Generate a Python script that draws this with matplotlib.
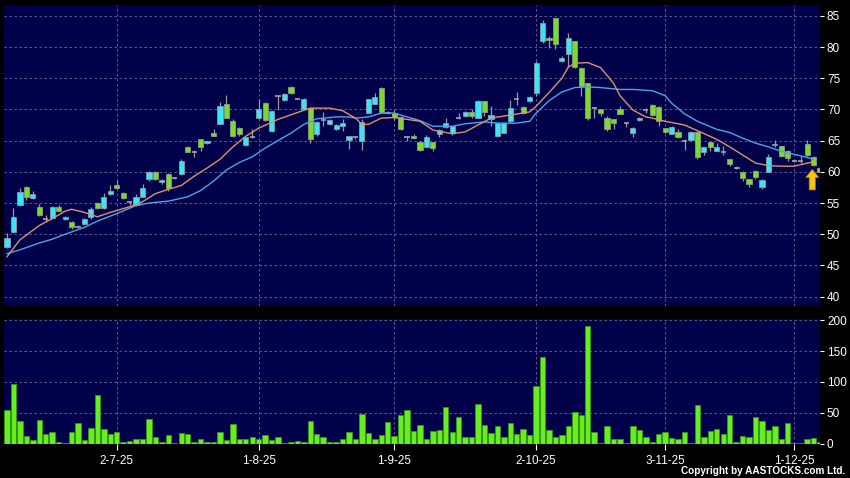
import matplotlib
matplotlib.use('Agg')
import matplotlib.pyplot as plt
from matplotlib.patches import FancyArrow

# ---------------- data ----------------
opens = [48.0, 50.3, 54.7, 57.5, 55.8, 54.4, 52.5, 52.6, 54.4, 52.4,
         52.0, 51.2, 51.6, 52.7, 55.0, 54.2, 56.4, 57.9, 56.6, 55.1,
         54.7, 56.0, 58.8, 60.0, 58.3, 59.6, 59.0, 59.6, 64.0, 63.1,
         65.2, 64.6, 66.3, 67.7, 70.8, 68.2, 67.0, 64.3, 65.6, 68.6,
         71.0, 66.5, 72.2, 71.5, 73.6, 71.7, 70.1, 70.3, 66.0, 68.3,
         67.6, 66.8, 67.4, 65.1, 65.5, 64.9, 69.5, 70.9, 73.5, 69.4,
         69.5, 68.8, 65.5, 65.7, 64.8, 64.0, 64.7, 66.0, 67.2, 66.2,
         68.7, 68.9, 69.6, 68.7, 71.3, 68.4, 65.7, 66.3, 68.2, 71.6,
         70.4, 71.3, 72.6, 81.0, 81.5, 84.6, 77.8, 78.9, 80.9, 76.7,
         74.2, 70.2, 70.0, 68.7, 68.4, 70.0, 67.9, 66.3, 68.3, 69.9,
         70.7, 70.4, 67.0, 66.1, 66.4, 65.0, 65.1, 66.4, 63.2, 64.7,
         63.4, 63.2, 62.0, 60.6, 60.0, 58.8, 60.2, 57.5, 60.0, 64.3,
         64.1, 63.4, 61.7, 61.7, 64.4, 62.4, 60.6]
highs = [50.2, 54.2, 57.4, 57.7, 57.0, 54.9, 53.1, 54.5, 54.7, 52.9,
         52.1, 51.4, 52.6, 54.4, 55.2, 56.6, 57.9, 58.7, 56.7, 55.3,
         56.5, 58.0, 60.2, 60.1, 58.9, 59.8, 59.2, 62.0, 64.1, 63.5,
         65.3, 65.0, 66.9, 71.2, 72.3, 68.4, 67.2, 65.6, 66.9, 71.7,
         71.2, 69.9, 72.3, 72.6, 73.8, 71.8, 71.8, 70.4, 68.1, 69.6,
         68.4, 67.6, 68.5, 65.8, 65.7, 68.4, 71.7, 72.6, 73.6, 69.8,
         69.9, 68.9, 65.8, 66.0, 64.9, 65.9, 64.8, 66.8, 68.6, 67.4,
         69.4, 69.7, 70.0, 71.5, 71.4, 70.5, 68.0, 67.9, 71.5, 72.8,
         70.6, 72.1, 77.7, 84.4, 81.8, 84.7, 78.5, 82.2, 81.0, 76.8,
         74.3, 70.4, 70.1, 68.9, 68.5, 70.6, 68.0, 67.2, 68.8, 70.3,
         70.9, 70.5, 67.1, 67.4, 66.9, 65.2, 66.6, 66.5, 64.0, 64.8,
         64.6, 64.2, 62.1, 60.9, 60.1, 58.9, 60.3, 58.8, 62.9, 65.1,
         64.2, 63.5, 61.9, 62.5, 65.1, 62.5, 60.8]
lows = [47.8, 50.2, 54.6, 55.5, 55.7, 53.0, 51.9, 52.5, 53.7, 52.3,
        50.9, 51.0, 51.5, 52.5, 54.1, 54.1, 56.3, 57.3, 55.7, 54.7,
        54.6, 55.9, 58.6, 58.7, 58.0, 56.9, 58.9, 59.5, 63.1, 62.4,
        63.3, 64.5, 65.7, 67.6, 68.6, 65.5, 65.8, 64.2, 65.4, 68.5,
        68.2, 66.4, 69.9, 71.4, 72.5, 71.6, 70.0, 64.6, 65.8, 67.3,
        67.5, 66.7, 66.5, 63.6, 65.3, 63.5, 69.4, 70.8, 69.5, 69.2,
        68.3, 66.7, 65.0, 65.3, 63.3, 63.9, 63.3, 65.5, 67.1, 65.9,
        68.4, 68.8, 68.7, 68.6, 69.0, 67.4, 65.5, 66.2, 67.9, 70.7,
        69.2, 71.2, 72.1, 80.6, 79.8, 79.6, 77.6, 76.8, 76.7, 72.1,
        68.3, 68.6, 69.0, 66.6, 66.8, 69.2, 67.2, 65.6, 68.2, 69.5,
        69.0, 67.3, 66.3, 66.0, 65.4, 63.5, 65.0, 62.0, 62.7, 63.3,
        63.3, 62.7, 61.0, 60.5, 58.6, 57.6, 58.9, 57.3, 59.9, 63.9,
        62.4, 61.8, 61.5, 61.4, 62.6, 61.0, 59.9]
closes = [49.4, 52.8, 56.7, 56.0, 56.4, 53.1, 52.5, 54.4, 53.8, 52.8,
          51.1, 51.2, 52.5, 54.0, 54.2, 55.9, 56.9, 57.4, 55.8, 55.1,
          55.9, 57.4, 60.0, 58.8, 58.7, 57.4, 59.0, 61.7, 63.2, 63.1,
          64.0, 64.9, 65.8, 70.5, 68.7, 65.7, 66.0, 65.5, 65.6, 70.0,
          68.3, 69.8, 72.2, 72.5, 72.6, 71.7, 71.7, 65.2, 68.0, 68.3,
          68.3, 67.5, 67.8, 65.7, 65.5, 68.0, 71.6, 72.0, 69.6, 69.6,
          68.8, 66.8, 65.5, 65.4, 63.5, 65.5, 63.8, 66.7, 67.9, 67.3,
          68.7, 69.6, 68.9, 71.3, 69.6, 69.1, 67.9, 67.8, 70.2, 71.6,
          69.4, 72.0, 77.4, 83.9, 81.1, 80.5, 78.3, 81.4, 76.8, 73.8,
          68.6, 70.2, 69.5, 66.8, 67.9, 69.3, 67.9, 67.1, 68.7, 69.9,
          69.1, 68.1, 66.4, 67.2, 65.6, 65.0, 66.4, 62.4, 63.9, 63.9,
          63.9, 63.2, 61.2, 60.8, 59.0, 58.0, 59.1, 58.7, 62.4, 64.5,
          62.5, 62.2, 61.7, 61.7, 62.7, 61.1, 60.0]
volumes = [55, 96, 37, 12, 5, 38, 16, 19, 3, 0.5,
           18, 33, 5, 25, 78, 23, 16, 18, 2, 4,
           6.5, 6.5, 40, 10, 2, 13, 0.5, 17, 16, 2,
           6.5, 3, 3, 18, 5, 31, 7.5, 7.5, 10, 8,
           13, 5, 11, 1, 2, 4, 2, 37, 16, 11,
           2, 3, 7, 18, 7.5, 48, 17, 7, 13, 35,
           12, 47, 54, 21, 30, 7, 21, 21.5, 60, 19,
           42.5, 11, 10, 64.5, 30, 17, 29, 11, 34, 16,
           24, 14, 93.5, 141, 22.6, 10, 13, 29, 50.5, 47,
           190, 19, 1.6, 28.5, 6.5, 8, 1, 29, 22.6, 10,
           3, 15, 19.4, 8.6, 7.5, 19.4, 1.6, 63, 10, 20.4,
           24.2, 15, 47, 3.2, 12, 10, 43, 36.6, 22.6, 28.5,
           6.5, 33, 1, 1, 7.5, 9.7, 2]

ma10_days = [0, 2, 5, 7, 9, 10, 12, 14, 16, 19, 21, 23, 25, 27, 29, 31, 33, 35,
             37, 39, 42, 45, 47, 50, 52, 54, 55, 56, 58, 60, 62, 64, 66, 69, 71,
             73, 75, 78, 81, 82, 84, 86, 87, 88, 90, 92, 94, 95, 97, 99, 100,
             102, 105, 107, 110, 112, 114, 116, 118, 120, 122, 124, 125]
ma10_vals = [46.4, 49.1, 51.4, 52.5, 53.7, 54.0, 53.5, 52.8, 53.5, 54.4, 55.2,
             56.5, 57.2, 57.8, 59.3, 60.6, 62.0, 64.0, 65.7, 67.0, 68.4, 69.5,
             70.2, 70.2, 69.8, 68.6, 67.6, 67.6, 68.6, 68.7, 68.4, 68.1, 66.7,
             66.1, 66.4, 67.5, 68.6, 69.1, 69.6, 70.5, 72.7, 75.0, 76.8, 77.4,
             77.5, 76.7, 74.2, 72.2, 69.9, 68.8, 68.6, 68.1, 67.5, 66.6, 65.2,
             64.0, 62.7, 61.4, 61.0, 60.9, 60.9, 61.4, 61.6]
ma20_days = [0, 2, 5, 7, 9, 12, 14, 17, 20, 22, 25, 28, 30, 32, 34, 36, 38, 40,
             42, 44, 46, 48, 51, 53, 54, 56, 58, 60, 62, 64, 66, 69, 71, 74, 76,
             79, 81, 82, 84, 86, 88, 90, 92, 95, 97, 100, 102, 103, 105, 107,
             110, 112, 114, 116, 118, 120, 122, 124, 125]
ma20_vals = [46.9, 47.5, 48.6, 49.2, 50.0, 51.1, 52.1, 53.3, 54.6, 55.0, 55.3,
             56.0, 57.0, 58.5, 60.3, 61.5, 62.4, 63.8, 65.0, 66.2, 67.6, 68.5,
             68.8, 68.8, 68.6, 68.8, 69.4, 69.4, 68.8, 68.2, 67.3, 67.3, 67.7,
             68.0, 67.8, 67.8, 68.1, 69.4, 71.4, 72.8, 73.5, 73.6, 73.5, 73.2,
             73.2, 73.0, 72.2, 71.0, 69.3, 68.1, 66.8, 66.3, 65.4, 64.6, 64.0,
             63.3, 62.8, 62.3, 62.0]

date_ticks = [17, 39, 60, 82, 102, 122]
date_labels = ['2-7-25', '1-8-25', '1-9-25', '2-10-25', '3-11-25', '1-12-25']
price_ticks = [40, 45, 50, 55, 60, 65, 70, 75, 80, 85]
vol_ticks = [0, 50, 100, 150, 200]

# ---------------- style ----------------
W, H = 850, 478
BG = '#000000'
PANEL = '#00004a'
GRID = '#6a6a9a'
UP = '#3ae6f2'
DOWN = '#78dc28'
DOJI = '#9a9aa0'
WICK = '#9a9aa0'
VOLC = '#66ee1e'
VOLE = '#3c9a12'
plt.rcParams['font.family'] = ['Liberation Sans', 'DejaVu Sans']

fig = plt.figure(figsize=(W / 100, H / 100), dpi=100, facecolor=BG)
axp = fig.add_axes([4 / W, 1 - 306 / H, 816 / W, 301 / H], facecolor=PANEL)
axv = fig.add_axes([4 / W, 1 - 443.5 / H, 816 / W, 124.5 / H], facecolor=PANEL)

n = len(closes)
idx = list(range(n))
xlim = (-0.47, 126.0)

for ax in (axp, axv):
    ax.set_xlim(*xlim)
    for s in ax.spines.values():
        s.set_visible(False)
    ax.set_xticks(date_ticks)
    ax.grid(True, color=GRID, linestyle=(0, (3, 3)), linewidth=0.6)
    ax.set_axisbelow(True)
    ax.yaxis.tick_right()
    ax.tick_params(axis='y', colors='white', labelcolor='white', length=3,
                   width=0.8, pad=2, labelsize=8.5)

axp.set_ylim(38.5, 86.73)
axp.set_yticks(price_ticks)
axp.tick_params(axis='x', length=0, labelbottom=False)

axv.set_ylim(0, 202)
axv.set_yticks(vol_ticks)
axv.set_xticklabels(date_labels)
axv.tick_params(axis='x', colors='white', labelcolor='white', length=4,
                width=0.8, pad=4, labelsize=8.5)

# wicks
axp.vlines(idx, lows, highs, color=WICK, linewidth=0.9, zorder=2)

# bodies
bw = 0.8
up_x = [i for i in idx if closes[i] > opens[i]]
dn_x = [i for i in idx if closes[i] < opens[i]]
dj_x = [i for i in idx if closes[i] == opens[i]]
axp.bar(up_x, [closes[i] - opens[i] for i in up_x], bottom=[opens[i] for i in up_x],
        width=bw, color=UP, edgecolor='#8a9aa8', linewidth=0.6, zorder=3)
axp.bar(dn_x, [opens[i] - closes[i] for i in dn_x], bottom=[closes[i] for i in dn_x],
        width=bw, color=DOWN, edgecolor='#8aa080', linewidth=0.6, zorder=3)
axp.hlines([closes[i] for i in dj_x], [i - bw / 2 for i in dj_x], [i + bw / 2 for i in dj_x],
           color=DOJI, linewidth=1.3, zorder=3)

# moving averages
axp.plot(ma20_days, ma20_vals, color='#4aa6e6', linewidth=1.0, zorder=4)
axp.plot(ma10_days, ma10_vals, color='#e0906a', linewidth=1.0, zorder=4)

# arrow under last candle
axp.add_patch(FancyArrow(124.8, 57.1, 0, 3.3, width=0.95, head_width=2.0,
                         head_length=1.3, length_includes_head=True,
                         facecolor='#f6c21a', edgecolor='#b07800', linewidth=0.6,
                         zorder=6))

# volume
axv.bar(idx, volumes, width=0.84, color=VOLC, edgecolor=VOLE, linewidth=0.5, zorder=3)

fig.text(845 / W, 1 - 471 / H, 'Copyright by AASTOCKS.com Ltd.', color='white',
         fontsize=7.2, fontweight='bold', ha='right', va='center')

fig.savefig('out.png', dpi=100, facecolor=BG)
